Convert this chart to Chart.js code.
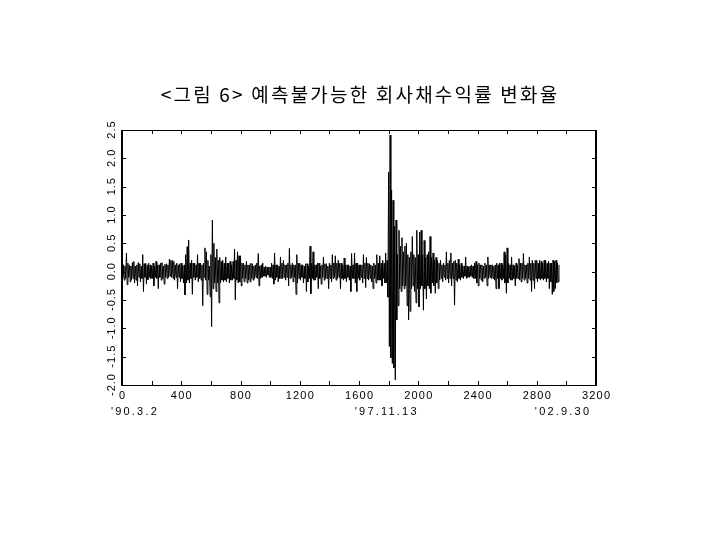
<!DOCTYPE html>
<html>
<head>
<meta charset="utf-8">
<script src="https://cdn.jsdelivr.net/npm/chart.js@4.4.1/dist/chart.umd.min.js"></script>
<style>
  html, body { margin: 0; padding: 0; background: #fff; }
  #wrap { width: 720px; height: 540px; }
</style>
</head>
<body>
<div id="wrap"><canvas id="c" width="720" height="540"></canvas></div>
<script>
// ---- data ----
const titleText = '<그림 6> 예측불가능한 회사채수익률 변화율';
const obsStep = 5; // one value per 5 observations
const changeRate = [
  0.05,-0.1,0.12,-0.15,0.1,-0.12,0.33,-0.23,0.15,-0.1,0.12,-0.18,0.1,-0.14,0.16,-0.12,0.18,-0.2,0.1,-0.15,
  0.12,-0.25,0.16,-0.1,0.14,-0.18,0.1,-0.12,0.3,-0.35,0.14,-0.1,0.15,-0.22,0.12,-0.14,0.15,-0.1,0.12,-0.12,
  0.1,-0.12,0.15,-0.25,0.1,-0.1,0.18,-0.12,0.12,-0.3,0.12,-0.1,0.15,-0.15,0.16,-0.12,0.1,-0.22,0.13,-0.1,
  0.14,-0.12,0.12,-0.1,0.22,-0.08,0.2,-0.1,0.2,-0.12,0.18,-0.15,0.12,-0.1,0.15,-0.3,0.12,-0.1,0.14,-0.18,
  0.15,-0.12,0.1,-0.2,0.12,-0.41,0.3,-0.2,0.44,-0.15,0.56,-0.2,0.15,-0.12,0.2,-0.4,0.15,-0.1,0.15,-0.15,
  0.12,-0.1,0.3,-0.18,0.15,-0.12,0.15,-0.15,0.12,-0.6,0.15,-0.1,0.42,-0.15,0.35,-0.4,0.2,-0.15,0.1,-0.44,
  0.3,-0.97,0.91,-0.3,0.5,-0.2,0.25,-0.35,0.4,-0.2,0.2,-0.55,0.25,-0.2,0.18,-0.15,0.2,-0.18,0.15,-0.15,
  0.26,-0.18,0.15,-0.12,0.15,-0.2,0.18,-0.15,0.12,-0.15,0.18,-0.12,0.4,-0.5,0.2,-0.15,0.35,-0.2,0.28,-0.18,
  0.28,-0.25,0.15,-0.12,0.15,-0.18,0.12,-0.12,0.18,-0.2,0.12,-0.15,0.12,-0.18,0.15,-0.12,0.14,-0.15,0.1,-0.12,
  0.12,-0.1,0.15,-0.12,0.32,-0.25,0.1,-0.12,0.12,-0.1,0.15,-0.08,0.08,-0.08,0.1,-0.1,0.08,-0.06,0.08,-0.1,
  0.08,-0.1,0.15,-0.12,0.12,-0.22,0.33,-0.15,0.12,-0.1,0.12,-0.18,0.1,-0.12,0.26,-0.12,0.15,-0.12,0.2,-0.1,
  0.12,-0.15,0.12,-0.1,0.15,-0.25,0.41,-0.12,0.12,-0.1,0.15,-0.18,0.12,-0.1,0.12,-0.4,0.3,-0.2,0.15,-0.12,
  0.15,-0.15,0.12,-0.1,0.12,-0.2,0.1,-0.12,0.14,-0.35,0.14,-0.18,0.1,-0.12,0.45,-0.39,0.15,-0.12,0.35,-0.15,
  0.12,-0.15,0.12,-0.1,0.15,-0.3,0.15,-0.12,0.1,-0.22,0.12,-0.1,0.26,-0.15,0.14,-0.12,0.14,-0.12,0.1,-0.3,
  0.15,-0.12,0.12,-0.18,0.3,-0.12,0.15,-0.1,0.28,-0.15,0.15,-0.12,0.2,-0.1,0.15,-0.3,0.15,-0.12,0.12,-0.15,
  0.24,-0.12,0.12,-0.18,0.12,-0.1,0.12,-0.15,0.1,-0.35,0.32,-0.12,0.12,-0.12,0.33,-0.2,0.15,-0.35,0.15,-0.12,
  0.12,-0.15,0.12,-0.1,0.12,-0.2,0.3,-0.12,0.15,-0.28,0.25,-0.12,0.15,-0.15,0.14,-0.12,0.12,-0.18,0.1,-0.3,
  0.15,-0.12,0.12,-0.2,0.3,-0.15,0.15,-0.15,0.28,-0.15,0.15,-0.25,0.2,-0.12,0.15,-0.2,0.33,-0.2,0.2,-0.45,
  1.76,-1.32,2.41,-1.52,1.44,-1.62,1.26,-1.7,0.8,-1.91,0.91,-0.85,0.3,-0.6,0.73,-0.3,0.45,-0.35,0.6,-0.25,
  0.35,-0.3,0.45,-0.25,0.5,-0.6,0.3,-0.85,0.25,-0.7,0.35,-0.3,0.62,-0.25,0.3,-0.35,0.25,-0.55,0.73,-0.3,
  0.3,-0.62,0.7,-0.3,0.73,-0.25,0.3,-0.68,0.55,-0.3,0.25,-0.48,0.3,-0.25,0.35,-0.3,0.62,-0.38,0.25,-0.2,
  0.33,-0.25,0.2,-0.38,0.25,-0.2,0.2,-0.3,0.15,-0.15,0.2,-0.12,0.12,-0.18,0.15,-0.1,0.12,-0.15,0.35,-0.12,
  0.15,-0.2,0.2,-0.12,0.33,-0.25,0.15,-0.12,0.18,-0.59,0.2,-0.15,0.15,-0.18,0.22,-0.12,0.12,-0.15,0.15,-0.1,
  0.1,-0.12,0.1,-0.08,0.26,-0.12,0.1,-0.1,0.08,-0.1,0.1,-0.08,0.12,-0.1,0.1,-0.12,0.15,-0.12,0.18,-0.2,
  0.12,-0.25,0.15,-0.12,0.12,-0.15,0.12,-0.18,0.1,-0.12,0.15,-0.1,0.12,-0.25,0.26,-0.12,0.12,-0.1,0.12,-0.12,
  0.12,-0.12,0.1,-0.15,0.12,-0.3,0.15,-0.12,0.12,-0.3,0.15,-0.12,0.15,-0.15,0.12,-0.12,0.35,-0.2,0.3,-0.38,
  0.42,-0.2,0.15,-0.12,0.12,-0.15,0.26,-0.15,0.12,-0.12,0.1,-0.25,0.15,-0.12,0.12,-0.12,0.23,-0.15,0.15,-0.18,
  0.15,-0.12,0.32,-0.15,0.12,-0.12,0.12,-0.2,0.15,-0.12,0.26,-0.15,0.15,-0.35,0.2,-0.15,0.15,-0.3,0.2,-0.12,
  0.2,-0.18,0.15,-0.12,0.2,-0.15,0.18,-0.12,0.15,-0.15,0.2,-0.12,0.2,-0.18,0.15,-0.12,0.18,-0.3,0.15,-0.18,
  0.15,-0.4,0.2,-0.35,0.18,-0.3,0.2,-0.2,0.15,-0.18,0.12
];
const xTickValues = [0, 400, 800, 1200, 1600, 2000, 2400, 2800, 3200];
const yTickLabels = ['-2.0', '-1.5', '-1.0', '-0.5', '0.0', '0.5', '1.0', '1.5', '2.0', '2.5'];
const dateLabels = ["'90.3.2", "'97.11.13", "'02.9.30"];
const dateObs = [80, 1780, 2970];

const obsIndex = changeRate.map((_, i) => i * obsStep);

const axisFont = '11px "Liberation Sans", Arial, sans-serif';

function spacedText(ctx, text, x, y, spacing) {
  ctx.letterSpacing = spacing + 'px';
  // compensate the trailing spacing so the text stays centred
  ctx.fillText(text, x + spacing / 2, y);
  ctx.letterSpacing = '0px';
}

const framePlugin = {
  id: 'frame',
  afterDraw(chart) {
    const { ctx, chartArea: a, scales } = chart;
    const xs = scales.x, ys = scales.y;
    ctx.save();
    // title
    ctx.fillStyle = '#000';
    ctx.font = '19px "Noto Sans CJK KR", sans-serif';
    ctx.textAlign = 'center';
    ctx.textBaseline = 'middle';
    spacedText(ctx, titleText, (a.left + a.right) / 2, 95, 2.2);

    ctx.strokeStyle = '#000';
    // top and bottom (thin)
    ctx.lineWidth = 1;
    ctx.beginPath();
    ctx.moveTo(a.left, a.top + 0.5); ctx.lineTo(a.right, a.top + 0.5);
    ctx.moveTo(a.left, a.bottom + 0.5); ctx.lineTo(a.right, a.bottom + 0.5);
    ctx.stroke();
    // left and right (thick)
    ctx.lineWidth = 2;
    ctx.beginPath();
    ctx.moveTo(a.left, a.top); ctx.lineTo(a.left, a.bottom + 1);
    ctx.moveTo(a.right, a.top); ctx.lineTo(a.right, a.bottom + 1);
    ctx.stroke();
    // inward tick marks
    ctx.lineWidth = 1;
    ctx.beginPath();
    xs.ticks.forEach(t => {
      const px = Math.round(xs.getPixelForValue(t.value)) + 0.5;
      ctx.moveTo(px, a.bottom); ctx.lineTo(px, a.bottom - 4);
      ctx.moveTo(px, a.top); ctx.lineTo(px, a.top + 4);
    });
    ys.ticks.forEach(t => {
      const py = Math.round(ys.getPixelForValue(t.value)) + 0.5;
      ctx.moveTo(a.left, py); ctx.lineTo(a.left + 4, py);
      ctx.moveTo(a.right, py); ctx.lineTo(a.right - 4, py);
    });
    ctx.stroke();
    // x tick labels
    ctx.font = axisFont;
    xTickValues.forEach(v => {
      spacedText(ctx, String(v), xs.getPixelForValue(v), a.bottom + 11, 1.2);
    });
    // rotated y tick labels
    ys.ticks.forEach((t, i) => {
      const py = ys.getPixelForValue(t.value);
      ctx.save();
      ctx.translate(a.left - 10, py);
      ctx.rotate(-Math.PI / 2);
      spacedText(ctx, yTickLabels[i], 0, 0, 1);
      ctx.restore();
    });
    // date labels under the x axis
    dateLabels.forEach((lab, i) => {
      spacedText(ctx, lab, xs.getPixelForValue(dateObs[i]), a.bottom + 27, 2.2);
    });
    ctx.restore();
  }
};

new Chart(document.getElementById('c'), {
  type: 'line',
  data: {
    labels: obsIndex,
    datasets: [{
      data: changeRate,
      borderColor: '#000',
      borderWidth: 1,
      pointRadius: 0,
      tension: 0,
      fill: false
    }]
  },
  options: {
    responsive: false,
    animation: false,
    events: [],
    layout: { padding: { left: 0, right: 124, top: 130, bottom: 0 } },
    plugins: {
      legend: { display: false },
      tooltip: { enabled: false },
      title: { display: false }
    },
    scales: {
      x: {
        type: 'linear',
        min: 0, max: 3200,
        afterFit: s => { s.height = 155; },
        afterBuildTicks: s => {
          const t = [];
          for (let v = 0; v <= 3200; v += 200) t.push({ value: v });
          s.ticks = t;
        },
        border: { display: false },
        grid: { display: false, drawTicks: false },
        ticks: { display: false }
      },
      y: {
        min: -2, max: 2.5,
        afterFit: s => { s.width = 122; },
        afterBuildTicks: s => {
          s.ticks = yTickLabels.map(l => ({ value: parseFloat(l) }));
        },
        border: { display: false },
        grid: { display: false, drawTicks: false },
        ticks: { display: false }
      }
    }
  },
  plugins: [framePlugin]
});
</script>
</body>
</html>
